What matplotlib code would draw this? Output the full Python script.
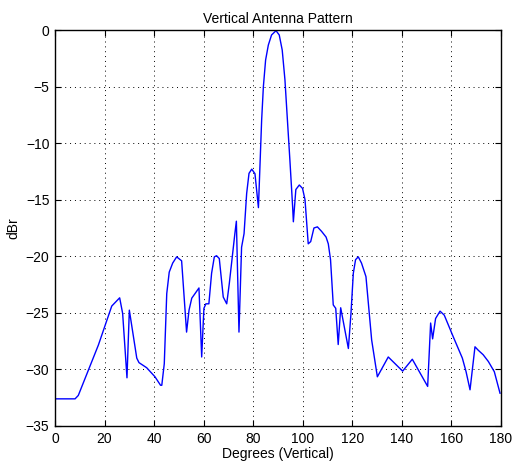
import matplotlib
matplotlib.use("Agg")
import matplotlib.pyplot as plt

plt.rcParams['font.family'] = ['Liberation Sans', 'DejaVu Sans']

# Elevation angle (degrees) and relative response (dB)
degrees = [0, 8.1, 9.4, 17.5, 22.9, 26.1, 27.3, 29.05, 30.0, 33.0, 33.9, 37.0, 40.35,
           42.6, 43.1, 44.1, 45.1, 46.1, 47.5, 49.1, 51.1, 53.1, 54.1, 55.2, 56.5,
           58.1, 59.2, 60.1, 60.9, 62.1, 63.2, 64.3, 65.2, 66.3, 67.9, 69.3, 70.35,
           72.6, 73.2, 74.25, 75.3, 76.3, 77.35, 78.3, 79.4, 80.7, 82.1, 83.4, 84.1,
           85.0, 86.1, 87.4, 89.2, 90.5, 91.7, 92.8, 93.8, 94.8, 95.9, 96.2, 97.2,
           98.6, 99.9, 100.9, 102.2, 103.2, 104.5, 105.9, 107.6, 109.4, 110.3, 111.2,
           112.3, 113.3, 114.3, 115.3, 118.4, 119.45, 120.4, 121.3, 122.4, 123.7,
           125.5, 127.8, 130.1, 134.5, 140.3, 144.2, 150.4, 151.6, 152.4, 153.6,
           155.4, 157.1, 160.7, 164.4, 165.9, 167.5, 169.5, 170.8, 172.8, 174.9,
           177.3, 179.6]
dbr = [-32.6, -32.6, -32.3, -27.85, -24.4, -23.67, -25.05, -30.74, -24.76, -29.0,
       -29.4, -29.85, -30.65, -31.4, -31.4, -29.5, -23.3, -21.4, -20.6, -20.05,
       -20.4, -26.7, -24.75, -23.7, -23.3, -22.8, -28.9, -24.6, -24.2, -24.2,
       -21.5, -20.05, -19.95, -20.2, -23.6, -24.2, -22.4, -17.98, -16.9, -26.7,
       -19.2, -18.0, -14.45, -12.67, -12.3, -12.7, -15.7, -7.96, -5.0, -2.65,
       -1.33, -0.44, -0.06, -0.44, -1.77, -4.4, -7.96, -11.5, -15.6, -16.95,
       -14.1, -13.7, -14.0, -15.0, -18.9, -18.7, -17.5, -17.4, -17.8, -18.3,
       -18.9, -20.3, -24.3, -24.6, -27.8, -24.55, -28.15, -25.05, -21.5, -20.3,
       -20.05, -20.6, -21.8, -27.4, -30.65, -28.9, -30.15, -29.1, -31.5, -25.9,
       -27.3, -25.5, -24.85, -25.2, -27.1, -29.0, -30.2, -31.8, -28.0, -28.3,
       -28.7, -29.3, -30.2, -32.1]

x_ticks = [0, 20, 40, 60, 80, 100, 120, 140, 160, 180]
y_ticks = [0, -5, -10, -15, -20, -25, -30, -35]

fig = plt.figure(figsize=(5.13, 4.70), dpi=100)
ax = fig.add_axes([55 / 513, 1 - 426 / 470, 446 / 513, 396 / 470])

ax.plot(degrees, dbr, color='#0000ff', linewidth=1.0)

ax.set_xlim(0, 180)
ax.set_ylim(-35, 0)
ax.set_xticks(x_ticks)
ax.set_yticks(y_ticks)
ax.set_yticklabels([f"{t}".replace('-', '\u2212') for t in y_ticks])

ax.grid(True, color='black', linestyle=(0, (1, 4)), linewidth=0.7)
ax.tick_params(direction='in', top=True, right=True, length=4, labelsize=10,
               width=0.8, pad=4)
for spine in ax.spines.values():
    spine.set_linewidth(1.0)

ax.set_title('Vertical Antenna Pattern', fontsize=10, pad=5)
ax.set_xlabel('Degrees (Vertical)', fontsize=10, labelpad=1)
ax.set_ylabel('dBr', fontsize=10, labelpad=4)

fig.savefig('out.png', dpi=100)
